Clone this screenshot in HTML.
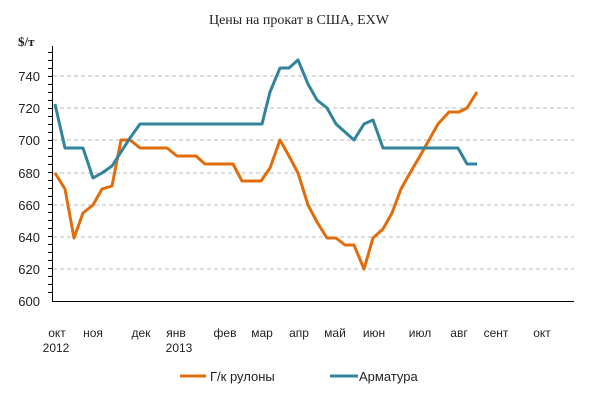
<!DOCTYPE html>
<html><head><meta charset="utf-8"><style>
html,body{margin:0;padding:0;background:#fff;}
svg{display:block;}
</style></head><body>
<svg width="600" height="401" viewBox="0 0 600 401" xmlns="http://www.w3.org/2000/svg">
<rect width="600" height="401" fill="#fff"/>
<text x="299" y="24" text-anchor="middle" font-family="Liberation Serif, DejaVu Serif, serif" font-size="14" fill="#222">Цены на прокат в США, EXW</text>
<text x="18" y="46" font-family="Liberation Serif, serif" font-size="13" font-weight="bold" fill="#222">$/т</text>
<g stroke="#bbb" stroke-width="1" stroke-dasharray="4,3">
<line x1="53" y1="76" x2="574" y2="76"/><line x1="53" y1="108" x2="574" y2="108"/>
<line x1="53" y1="140" x2="574" y2="140"/><line x1="53" y1="173" x2="574" y2="173"/>
<line x1="53" y1="205" x2="574" y2="205"/><line x1="53" y1="237" x2="574" y2="237"/>
<line x1="53" y1="269" x2="574" y2="269"/>
</g>
<g stroke="#000" stroke-width="1">
<line x1="52.5" y1="46" x2="52.5" y2="301"/><line x1="52" y1="301.5" x2="574" y2="301.5"/>
<path d="M48 52.5h5M48 60.5h5M48 68.5h5M48 76.5h5M48 84.5h5M48 92.5h5M48 100.5h5M48 108.5h5M48 116.5h5M48 124.5h5M48 132.5h5M48 140.5h5M48 148.5h5M48 156.5h5M48 164.5h5M48 172.5h5M48 180.5h5M48 188.5h5M48 196.5h5M48 204.5h5M48 212.5h5M48 220.5h5M48 228.5h5M48 236.5h5M48 244.5h5M48 252.5h5M48 260.5h5M48 268.5h5M48 276.5h5M48 284.5h5M48 292.5h5"/>
</g>
<g font-family="Liberation Sans, DejaVu Sans, sans-serif" font-size="13" fill="#222" text-anchor="end">
<text x="40" y="81">740</text><text x="40" y="113">720</text><text x="40" y="145">700</text>
<text x="40" y="178">680</text><text x="40" y="210">660</text><text x="40" y="242">640</text>
<text x="40" y="274">620</text><text x="40" y="306">600</text>
</g>
<g font-family="Liberation Sans, DejaVu Sans, sans-serif" font-size="12" fill="#222" text-anchor="middle">
<text x="57" y="337">окт</text><text x="93" y="337">ноя</text><text x="141" y="337">дек</text>
<text x="176" y="337">янв</text><text x="225" y="337">фев</text><text x="262" y="337">мар</text>
<text x="299" y="337">апр</text><text x="335" y="337">май</text><text x="374" y="337">июн</text>
<text x="420" y="337">июл</text><text x="459" y="337">авг</text><text x="496" y="337">сент</text>
<text x="542" y="337">окт</text>
<text x="56" y="352">2012</text><text x="179" y="352">2013</text>
</g>
<polyline fill="none" stroke="#e36c0a" stroke-width="3" stroke-linejoin="round" points="55,173 65,189 74,238 83,213 93,205 102,189 112,186 121,140 130,140 140,148 149,148 158,148 167,148 177,156 186,156 196,156 205,164 214,164 224,164 233,164 242,181 252,181 261,181 270,168 280,140 289,156 298,173 308,205 317,222 327,238 336,238 345,245 354,245 364,269 373,238 383,229 392,213 401,189 410,173 420,156 429,140 438,124 449,112 459,112 467,108 477,92"/>
<polyline fill="none" stroke="#31849b" stroke-width="3" stroke-linejoin="round" points="55,104 65,148 74,148 83,148 93,178 102,173 112,166 121,152 130,138 140,124 262,124 270,92 280,68 289,68 298,60 308,84 317,100 327,108 336,124 345,132 354,140 364,124 373,120 383,148 458,148 467,164 477,164"/>
<line x1="180" y1="376" x2="206" y2="376" stroke="#e36c0a" stroke-width="3"/>
<line x1="330" y1="376" x2="358" y2="376" stroke="#31849b" stroke-width="3"/>
<g font-family="Liberation Sans, DejaVu Sans, sans-serif" font-size="13" fill="#222">
<text x="210" y="381">Г/к рулоны</text><text x="359" y="381">Арматура</text>
</g>
</svg>
</body></html>
